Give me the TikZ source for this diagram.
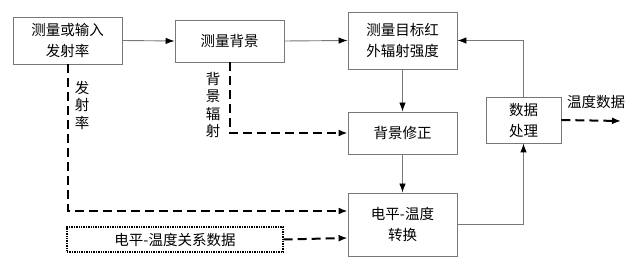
\documentclass[tikz,border=0pt]{standalone}
\usepackage{fontspec}
\setmainfont{Noto Sans CJK SC}
\usetikzlibrary{arrows.meta}
\definecolor{boxgray}{RGB}{120,120,120}
\begin{document}
\begin{tikzpicture}[x=1pt,y=1pt,
  txt/.style={font=\fontsize{14.5}{21}\selectfont},
  box/.style={txt, draw=boxgray, line width=0.9pt, inner sep=0pt, align=center},
  solidarrow/.style={draw=boxgray, line width=0.9pt, -{Latex[length=9pt,width=6.5pt,black]}},
  dasharrow/.style={draw=black, line width=2pt, dash pattern=on 9pt off 5pt, -{Latex[length=9pt,width=7pt]}},
  vlabel/.style={txt, align=center, font=\fontsize{14.5}{17.5}\selectfont, inner sep=0pt}
]
\useasboundingbox (0,0) rectangle (640,267);
\node[box, minimum width=109pt, minimum height=47pt] (emis) at (67.5,226.5) {测量或输入\\发射率};
\node[box, minimum width=109pt, minimum height=42pt] (bgm) at (229.5,226) {测量背景};
\node[box, minimum width=109pt, minimum height=57pt] (tgt) at (402.5,226.5) {测量目标红\\外辐射强度};
\node[box, minimum width=109pt, minimum height=42pt] (bgc) at (402.5,134) {背景修正};
\node[box, minimum width=109pt, minimum height=63pt] (conv) at (402.5,42.5) {电平-温度\\转换};
\node[box, minimum width=75pt, minimum height=46pt] (proc) at (523.5,147) {数据\\处理};
\node[box, draw=black, line width=1.4pt, densely dotted, minimum width=216pt, minimum height=25pt] (rel) at (175,27.5) {电平-温度关系数据};
\node[txt, inner sep=0pt] (outlbl) at (596,165) {温度数据};
\coordinate (outend) at (621,146);
\node[vlabel] (lblemis) at (82,162) {发\\射\\率};
\node[vlabel] (lblbg) at (213,162) {背\\景\\辐\\射};

\draw[solidarrow] (emis.east) -- (bgm.west);
\draw[solidarrow] (bgm.east) -- (tgt.west);
\draw[solidarrow] (tgt.south) -- (bgc.north);
\draw[solidarrow] (bgc.south) -- (conv.north);
\draw[solidarrow] (conv.east) -| (proc.south);
\draw[solidarrow] (proc.north) |- (tgt.east);
\draw[dasharrow] (proc.east) -- (outend);
\draw[dasharrow] (bgm.south) |- (bgc.west);
\draw[dasharrow] (emis.south) |- ([yshift=13.5pt]conv.west);
\draw[dasharrow] (rel.east) -- ([yshift=-13.5pt]conv.west);
\end{tikzpicture}
\end{document}
